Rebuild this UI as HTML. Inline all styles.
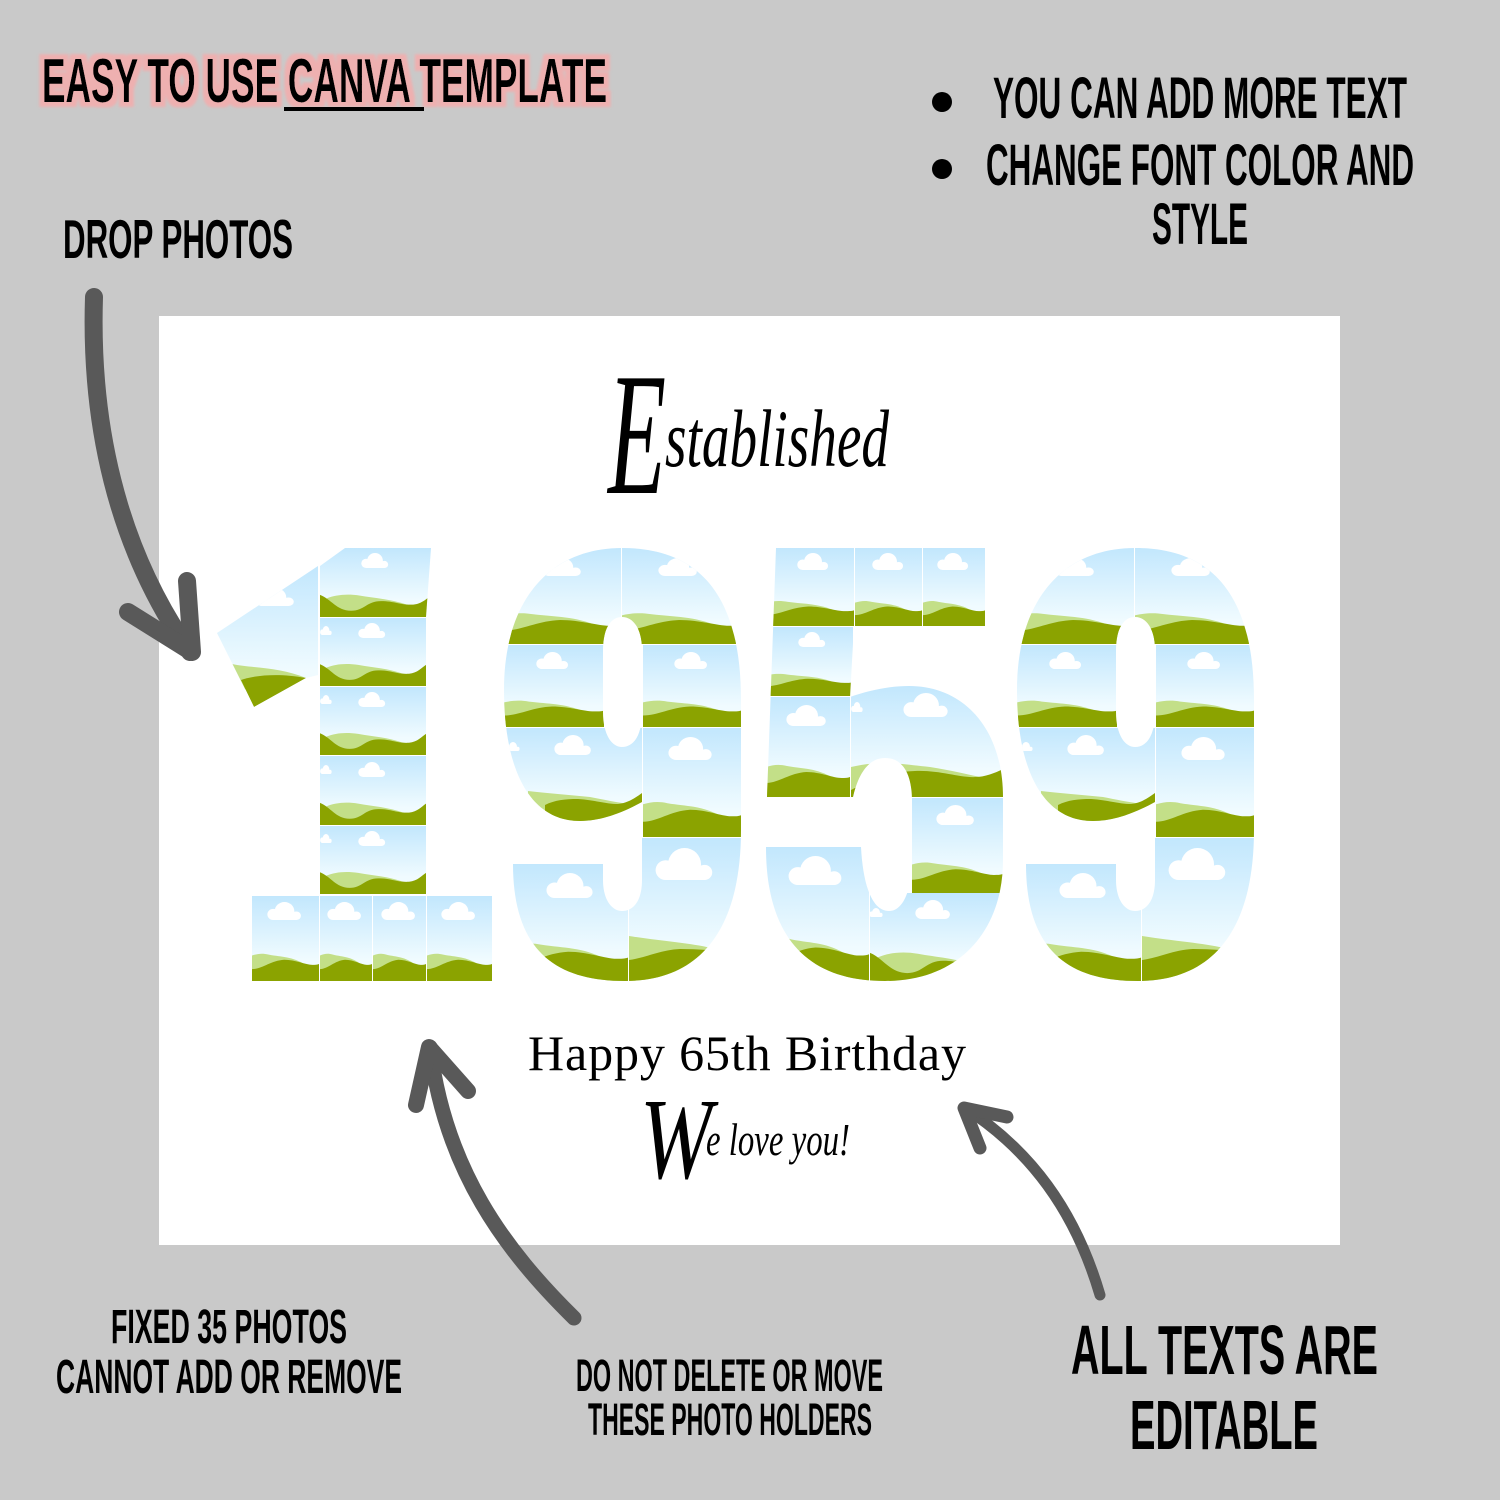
<!DOCTYPE html>
<html><head><meta charset="utf-8"><title>1959 Canva Template</title>
<style>html,body{margin:0;padding:0;background:#c9c9c9}svg{display:block}text{font-family:"Liberation Sans",sans-serif}</style></head>
<body>
<svg xmlns="http://www.w3.org/2000/svg" width="1500" height="1500" viewBox="0 0 1500 1500">
<defs>
<linearGradient id="sky" x1="0" y1="0" x2="0" y2="1"><stop offset="0" stop-color="#c2e7fd"/><stop offset=".75" stop-color="#f0fbff"/></linearGradient>
<filter id="halo" x="-3%" y="-30%" width="106%" height="160%">
<feMorphology in="SourceAlpha" operator="dilate" radius="5 5" result="d"/>
<feGaussianBlur in="d" stdDeviation="1.2" result="b"/>
<feFlood flood-color="#eeb0b0"/>
<feComposite in2="b" operator="in" result="p"/>
<feMerge><feMergeNode in="p"/><feMergeNode in="SourceGraphic"/></feMerge>
</filter>
<symbol id="A" viewBox="0 0 100 100" preserveAspectRatio="none">
<rect width="100" height="100" fill="url(#sky)"/>
<path d="M6 73C14 68 24 66 36 69C50 73 65 74 80 83L60 95L10 95Z" fill="#c3df88"/>
<path d="M0 68C10 74 15 91 28 91C40 91 42 77 55 77C68 77 72 83 84 82C92 81 96 73 100 69L100 100L0 100Z" fill="#8ba300"/>
</symbol>
<symbol id="B" viewBox="0 0 100 100" preserveAspectRatio="none">
<rect width="100" height="100" fill="url(#sky)"/>
<path d="M0 70C8 68 15 67 25 69C45 72 60 71 80 81L100 100L0 100Z" fill="#c3df88"/>
<path d="M0 86C15 86 28 76 48 75C65 75 80 81 90 81C94 81 97 81 100 80L100 100L0 100Z" fill="#8ba300"/>
</symbol>
<symbol id="S" viewBox="0 0 100 100" preserveAspectRatio="none"><rect width="100" height="100" fill="url(#sky)"/></symbol>
<symbol id="c" viewBox="0 0 100 55" preserveAspectRatio="none">
<circle cx="18" cy="38" r="17" fill="#fff"/><circle cx="50" cy="28" r="28" fill="#fff"/><circle cx="84" cy="42" r="13" fill="#fff"/><rect x="18" y="30" width="66" height="25" fill="#fff"/>
</symbol>
<clipPath id="clipNine"><path clip-rule="evenodd" d="M622 548C695 548 741 590 741 700L741 830C741 930 700 981 625 981C555 981 513 950 513 864L603 864L603 880C603 900 612 911 622 911C634 911 642 900 642 880L642 802C620 814 600 821 580 821C530 821 504 770 504 690C504 600 550 548 622 548ZM622 617C610 617 603 630 603 650L603 712C603 735 612 747 622 747C634 747 642 735 642 712L642 650C642 630 634 617 622 617Z"/></clipPath>
<clipPath id="clipFive"><path d="M776 548L985 548L985 626L854 626L850 697C870 690 890 686 909 686C965 686 1003 730 1003 797L1003 860C1003 930 960 981 885 981C810 981 766 940 766 847L861 847C863 885 872 911 889 911C905 911 912 885 912 860L912 800C912 780 906 758 885 758C868 758 858 775 853 797L767 797Z"/></clipPath>
<clipPath id="clipStem"><polygon points="320,566 345,548 431,548 426,617 320,617"/></clipPath>
<clipPath id="clipFlag"><polygon points="217,633 318,566 318,675 306,678 254,707"/></clipPath>
<g id="nine" clip-path="url(#clipNine)">
<use href="#B" x="504" y="548" width="117" height="96"/>
<use href="#B" x="622" y="548" width="119" height="96"/>
<use href="#B" x="504" y="645" width="100" height="82"/>
<use href="#B" x="643" y="645" width="98" height="82"/>
<use href="#S" x="504" y="728" width="138" height="93"/>
<path d="M528 791C545 793 570 795 590 797C605 800 620 803 642 806L642 825L528 825Z" fill="#c3df88"/>
<path d="M545 805C555 800 565 799 578 799C595 800 605 804 618 804C628 803 635 798 642 793L642 825L545 825Z" fill="#8ba300"/>
<use href="#B" x="643" y="728" width="98" height="109"/>
<use href="#B" x="513" y="864" width="115" height="117"/>
<use href="#S" x="629" y="838" width="112" height="143"/>
<path d="M629 936C660 941 690 943 711 948L741 981L629 981Z" fill="#c3df88"/>
<path d="M629 960C645 958 660 950 680 949C700 949 720 951 741 953L741 981L629 981Z" fill="#8ba300"/>
<use href="#c" x="542" y="558" width="40" height="18"/>
<use href="#c" x="658" y="558" width="40" height="18"/>
<use href="#c" x="536" y="652" width="33" height="17"/>
<use href="#c" x="674" y="652" width="34" height="17"/>
<use href="#c" x="554" y="735" width="38" height="20"/>
<use href="#c" x="506" y="742" width="14" height="9"/>
<use href="#c" x="668" y="737" width="45" height="23"/>
<use href="#c" x="546" y="873" width="48" height="25"/>
<use href="#c" x="655" y="848" width="59" height="32"/>
</g>
</defs>
<rect width="1500" height="1500" fill="#c9c9c9"/>
<rect x="159" y="316" width="1181" height="929" fill="#fff"/>

<!-- digit 1 -->
<g clip-path="url(#clipFlag)">
<use href="#S" x="217" y="566" width="102" height="141"/>
<use href="#c" x="255" y="588" width="40" height="18"/>
<path d="M232 664C250 668 280 667 306 678L241 690Z" fill="#c3df88"/>
<path d="M241 680C255 675 280 673 306 678L254 707Z" fill="#8ba300"/>
</g>
<g clip-path="url(#clipStem)"><use href="#A" x="320" y="548" width="111" height="69"/><use href="#c" x="361" y="553" width="28" height="15"/></g>
<use href="#A" x="320" y="618" width="106" height="68"/>
<use href="#A" x="320" y="687" width="106" height="68"/>
<use href="#A" x="320" y="756" width="106" height="69"/>
<use href="#A" x="320" y="826" width="106" height="68"/>
<use href="#c" x="358" y="623" width="28" height="15"/><use href="#c" x="320" y="626" width="12" height="9"/>
<use href="#c" x="358" y="692" width="28" height="15"/><use href="#c" x="320" y="695" width="12" height="9"/>
<use href="#c" x="358" y="762" width="28" height="15"/><use href="#c" x="320" y="765" width="12" height="9"/>
<use href="#c" x="358" y="831" width="28" height="15"/><use href="#c" x="320" y="834" width="12" height="9"/>
<use href="#B" x="252" y="896" width="67" height="85"/>
<use href="#B" x="320" y="896" width="52" height="85"/>
<use href="#B" x="373" y="896" width="53" height="85"/>
<use href="#B" x="427" y="896" width="65" height="85"/>
<use href="#c" x="267" y="902" width="35" height="18"/>
<use href="#c" x="327" y="902" width="35" height="18"/>
<use href="#c" x="381" y="902" width="35" height="18"/>
<use href="#c" x="441" y="902" width="35" height="18"/>

<!-- first 9 -->
<use href="#nine"/>

<!-- digit 5 -->
<g clip-path="url(#clipFive)">
<use href="#B" x="766" y="548" width="88" height="78"/>
<use href="#B" x="855" y="548" width="67" height="78"/>
<use href="#B" x="923" y="548" width="62" height="78"/>
<use href="#B" x="766" y="627" width="87" height="69"/>
<use href="#B" x="766" y="697" width="84" height="100"/>
<use href="#S" x="851" y="686" width="152" height="111"/>
<path d="M851 767C880 760 900 764 930 767C950 770 970 775 985 778L851 797Z" fill="#c3df88"/>
<path d="M851 790C870 780 885 772 915 771C940 770 960 778 975 777C985 777 995 773 1003 769L1003 797L851 797Z" fill="#8ba300"/>
<use href="#B" x="912" y="798" width="91" height="95"/>
<use href="#B" x="766" y="847" width="103" height="134"/>
<use href="#A" x="870" y="893" width="133" height="88"/>
<use href="#c" x="797" y="553" width="32" height="17"/>
<use href="#c" x="872" y="553" width="32" height="17"/>
<use href="#c" x="937" y="553" width="32" height="17"/>
<use href="#c" x="798" y="632" width="28" height="15"/>
<use href="#c" x="786" y="705" width="41" height="21"/>
<use href="#c" x="903" y="693" width="46" height="24"/>
<use href="#c" x="851" y="702" width="12" height="10"/>
<use href="#c" x="936" y="805" width="39" height="20"/>
<use href="#c" x="788" y="856" width="55" height="29"/>
<use href="#c" x="915" y="900" width="36" height="19"/>
<use href="#c" x="869" y="908" width="14" height="9"/>
</g>

<!-- second 9 -->
<use href="#nine" x="513"/>

<!-- arrows -->
<g fill="none" stroke="#595959" stroke-linecap="round" stroke-linejoin="round">
<path d="M94 297C90 420 115 545 190 652" stroke-width="18"/>
<path d="M187 581L192 652L128 612" stroke-width="18"/>
<path d="M574 1318C505 1250 445 1170 430 1047" stroke-width="15"/>
<path d="M416 1105L429 1047L468 1091" stroke-width="16"/>
<path d="M1100 1295C1075 1210 1030 1150 965 1108" stroke-width="11"/>
<path d="M980 1148L964 1108L1007 1117" stroke-width="13"/>
</g>

<!-- headline -->
<text x="42" y="102" font-size="62" font-weight="bold" textLength="565" lengthAdjust="spacingAndGlyphs" fill="#000" filter="url(#halo)">EASY TO USE CANVA TEMPLATE</text>
<rect x="284" y="107" width="140" height="4" fill="#000"/>

<g fill="#000" font-weight="bold">
<text x="63" y="258" font-size="55" textLength="230" lengthAdjust="spacingAndGlyphs">DROP PHOTOS</text>
<text x="993" y="118" font-size="58" textLength="414" lengthAdjust="spacingAndGlyphs">YOU CAN ADD MORE TEXT</text>
<text x="986" y="185" font-size="58" textLength="428" lengthAdjust="spacingAndGlyphs">CHANGE FONT COLOR AND</text>
<text x="1152" y="244" font-size="58" textLength="96" lengthAdjust="spacingAndGlyphs">STYLE</text>
<text x="111" y="1343" font-size="48" textLength="236" lengthAdjust="spacingAndGlyphs">FIXED 35 PHOTOS</text>
<text x="56" y="1393" font-size="48" textLength="346" lengthAdjust="spacingAndGlyphs">CANNOT ADD OR REMOVE</text>
<text x="576" y="1391" font-size="45" textLength="307" lengthAdjust="spacingAndGlyphs">DO NOT DELETE OR MOVE</text>
<text x="588" y="1435" font-size="45" textLength="284" lengthAdjust="spacingAndGlyphs">THESE PHOTO HOLDERS</text>
<text x="1071" y="1374" font-size="70" textLength="307" lengthAdjust="spacingAndGlyphs">ALL TEXTS ARE</text>
<text x="1130" y="1449" font-size="70" textLength="188" lengthAdjust="spacingAndGlyphs">EDITABLE</text>
</g>
<circle cx="942" cy="102" r="10" fill="#000"/>
<circle cx="942" cy="169" r="10" fill="#000"/>

<!-- script and serif -->
<text x="608" y="493" font-size="175" font-style="italic" style="font-family:'Liberation Serif',serif" fill="#000" textLength="58" lengthAdjust="spacingAndGlyphs">E</text>
<text x="665" y="466" font-size="82" font-style="italic" style="font-family:'Liberation Serif',serif" fill="#000" textLength="224" lengthAdjust="spacingAndGlyphs">stablished</text>
<text x="528" y="1070" font-size="50" style="font-family:'Liberation Serif',serif" fill="#000" textLength="438">Happy 65th Birthday</text>
<text x="640" y="1178" font-size="115" font-style="italic" style="font-family:'Liberation Serif',serif" fill="#000" textLength="72" lengthAdjust="spacingAndGlyphs">W</text>
<text x="706" y="1155" font-size="46" font-style="italic" style="font-family:'Liberation Serif',serif" fill="#000" textLength="144" lengthAdjust="spacingAndGlyphs">e love you!</text>
</svg>
</body></html>
